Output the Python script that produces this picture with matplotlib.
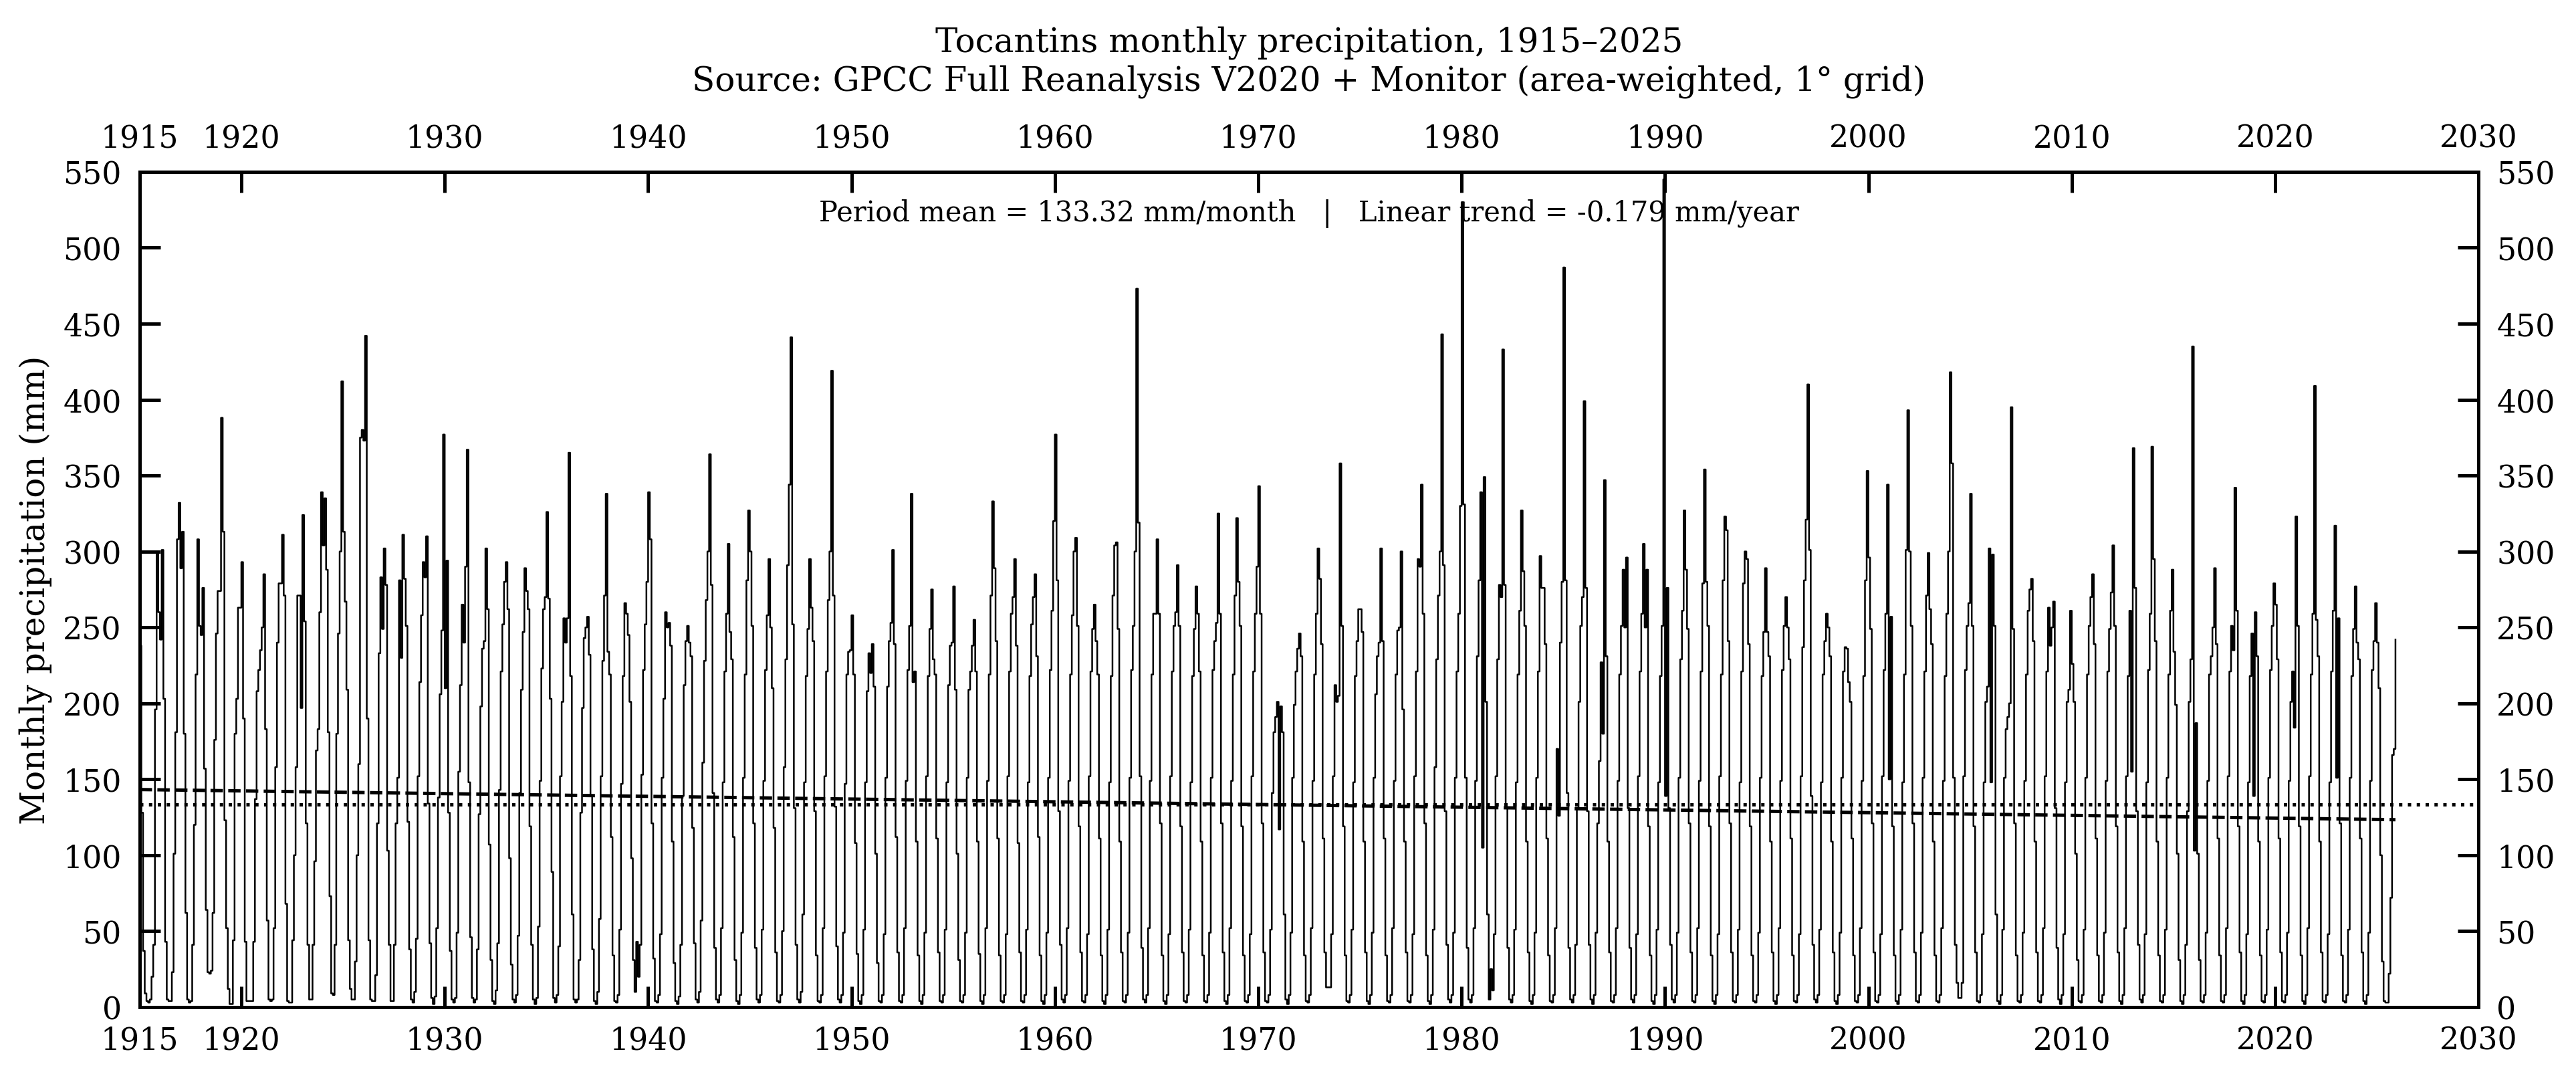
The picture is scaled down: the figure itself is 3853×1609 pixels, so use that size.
import matplotlib
matplotlib.use("Agg")
import matplotlib.pyplot as plt
import numpy as np

plt.rcParams["font.family"] = "DejaVu Serif"
plt.rcParams["font.size"] = 11

first_year = 1915
period_mean = 133.32      # mm/month, as printed on the chart
trend_per_year = -0.179   # mm/year, as printed on the chart
x_ticks = [1915, 1920, 1930, 1940, 1950, 1960, 1970, 1980, 1990, 2000, 2010, 2020, 2030]
y_ticks = list(range(0, 551, 50))

# monthly precipitation (mm), one row per year, Jan..Dec, 1915-2025
monthly_precip_mm = [
    [238, 128, 37, 9, 4, 3, 5, 20, 41, 196, 299, 260],
    [242, 301, 203, 43, 5, 4, 4, 23, 101, 181, 308, 332],
    [289, 313, 180, 62, 5, 3, 4, 41, 120, 219, 308, 251],
    [245, 276, 157, 64, 23, 22, 24, 62, 176, 246, 274, 274],
    [388, 313, 123, 52, 12, 2, 2, 44, 180, 203, 263, 263],
    [293, 190, 43, 4, 4, 4, 4, 43, 137, 208, 222, 235],
    [250, 285, 183, 57, 5, 4, 5, 52, 158, 240, 279, 279],
    [311, 271, 68, 4, 3, 3, 44, 100, 158, 271, 271, 197],
    [324, 254, 121, 41, 5, 5, 41, 96, 169, 183, 260, 339],
    [304, 335, 288, 181, 73, 9, 8, 41, 180, 246, 300, 412],
    [313, 267, 209, 44, 12, 5, 5, 30, 100, 160, 375, 380],
    [373, 442, 190, 44, 5, 4, 4, 21, 121, 233, 283, 249],
    [302, 278, 103, 41, 4, 4, 41, 121, 151, 281, 230, 311],
    [282, 251, 122, 38, 5, 3, 10, 45, 152, 214, 258, 293],
    [283, 310, 134, 42, 6, 2, 7, 52, 138, 206, 248, 377],
    [210, 294, 128, 37, 5, 3, 6, 49, 155, 212, 265, 240],
    [290, 367, 148, 46, 6, 3, 5, 38, 127, 198, 236, 241],
    [302, 262, 107, 31, 4, 2, 11, 42, 143, 221, 252, 280],
    [293, 262, 98, 28, 5, 3, 8, 47, 141, 209, 247, 289],
    [274, 262, 119, 41, 5, 2, 6, 53, 149, 223, 262, 270],
    [326, 269, 203, 89, 6, 3, 8, 40, 152, 201, 256, 240],
    [256, 365, 218, 61, 5, 3, 5, 31, 128, 197, 243, 250],
    [257, 232, 139, 38, 4, 2, 10, 58, 152, 228, 271, 338],
    [234, 219, 112, 34, 4, 3, 8, 51, 147, 218, 266, 259],
    [245, 201, 98, 31, 10, 43, 20, 41, 153, 222, 252, 280],
    [339, 308, 121, 32, 4, 3, 8, 48, 151, 203, 260, 250],
    [253, 238, 109, 29, 4, 2, 7, 41, 139, 212, 241, 251],
    [240, 231, 118, 42, 5, 3, 10, 57, 161, 228, 268, 300],
    [364, 278, 141, 39, 5, 3, 8, 52, 148, 221, 259, 305],
    [247, 229, 112, 31, 4, 2, 8, 49, 151, 219, 281, 327],
    [300, 251, 121, 39, 5, 3, 8, 51, 149, 222, 258, 295],
    [250, 210, 118, 36, 4, 3, 8, 50, 158, 229, 291, 344],
    [441, 252, 131, 41, 5, 3, 10, 61, 148, 218, 249, 295],
    [263, 241, 129, 34, 4, 3, 8, 52, 152, 221, 268, 300],
    [419, 271, 132, 40, 5, 3, 8, 49, 147, 219, 234, 235],
    [258, 219, 108, 35, 4, 2, 8, 51, 148, 208, 233, 220],
    [239, 211, 101, 29, 4, 3, 8, 48, 151, 211, 241, 253],
    [301, 239, 112, 36, 4, 3, 8, 52, 149, 222, 251, 338],
    [214, 221, 109, 34, 4, 2, 8, 49, 152, 218, 249, 275],
    [229, 219, 111, 36, 4, 3, 8, 51, 148, 212, 238, 240],
    [277, 209, 101, 31, 4, 3, 8, 49, 151, 209, 221, 238],
    [255, 221, 109, 35, 4, 2, 8, 52, 149, 219, 271, 333],
    [289, 241, 111, 34, 4, 3, 8, 48, 152, 221, 259, 270],
    [295, 238, 108, 36, 4, 3, 8, 51, 148, 218, 252, 270],
    [285, 231, 112, 34, 4, 2, 8, 49, 151, 222, 261, 320],
    [377, 281, 129, 41, 5, 3, 8, 52, 149, 219, 258, 300],
    [309, 251, 119, 36, 4, 3, 8, 48, 152, 221, 249, 265],
    [241, 219, 111, 34, 4, 2, 8, 51, 148, 218, 271, 304],
    [306, 249, 109, 36, 4, 3, 8, 49, 151, 222, 251, 300],
    [473, 319, 152, 39, 5, 3, 8, 52, 149, 219, 259, 259],
    [308, 259, 121, 34, 4, 2, 8, 48, 152, 221, 251, 260],
    [291, 251, 119, 36, 4, 3, 8, 51, 148, 218, 249, 277],
    [259, 221, 109, 34, 4, 3, 8, 49, 151, 222, 241, 253],
    [325, 259, 121, 36, 4, 2, 8, 52, 149, 219, 271, 322],
    [280, 251, 119, 34, 4, 3, 8, 48, 152, 221, 259, 290],
    [343, 259, 121, 36, 4, 3, 8, 51, 141, 181, 191, 201],
    [117, 198, 181, 61, 5, 2, 8, 49, 151, 199, 221, 236],
    [246, 231, 109, 34, 4, 3, 8, 52, 149, 219, 259, 302],
    [282, 239, 111, 36, 13, 13, 13, 48, 152, 212, 201, 205],
    [358, 251, 119, 34, 4, 3, 8, 51, 148, 218, 241, 262],
    [262, 247, 109, 36, 4, 2, 8, 49, 151, 206, 231, 240],
    [302, 241, 111, 34, 4, 3, 8, 52, 149, 219, 248, 250],
    [300, 196, 109, 36, 4, 3, 8, 48, 152, 221, 295, 290],
    [344, 259, 121, 34, 4, 2, 8, 51, 158, 229, 271, 300],
    [443, 291, 129, 41, 5, 3, 8, 49, 151, 221, 259, 330],
    [530, 331, 151, 39, 5, 3, 8, 52, 149, 231, 281, 339],
    [105, 349, 201, 61, 5, 25, 11, 48, 152, 229, 278, 270],
    [433, 278, 131, 39, 5, 3, 8, 51, 148, 219, 261, 327],
    [287, 251, 109, 36, 4, 2, 8, 49, 151, 221, 297, 276],
    [276, 239, 111, 34, 4, 3, 8, 52, 170, 126, 240, 280],
    [487, 281, 141, 39, 5, 3, 8, 41, 131, 201, 251, 270],
    [399, 276, 129, 41, 5, 2, 8, 49, 121, 162, 227, 180],
    [347, 231, 109, 36, 4, 3, 8, 52, 149, 219, 251, 288],
    [250, 296, 131, 39, 5, 3, 8, 48, 152, 221, 259, 305],
    [250, 288, 119, 34, 4, 2, 8, 51, 148, 218, 251, 545],
    [139, 276, 131, 41, 5, 3, 8, 49, 151, 229, 261, 327],
    [288, 249, 121, 36, 4, 3, 8, 52, 149, 221, 279, 354],
    [280, 251, 119, 34, 4, 2, 8, 48, 152, 219, 281, 323],
    [314, 241, 121, 36, 4, 3, 8, 51, 148, 221, 279, 300],
    [295, 239, 119, 34, 4, 3, 8, 49, 151, 218, 247, 289],
    [247, 231, 109, 36, 4, 2, 8, 52, 149, 222, 251, 270],
    [250, 229, 111, 34, 4, 3, 8, 48, 152, 237, 281, 321],
    [410, 301, 139, 41, 5, 3, 8, 51, 148, 219, 241, 259],
    [250, 231, 109, 36, 4, 2, 8, 49, 151, 221, 237, 236],
    [214, 201, 111, 34, 4, 3, 8, 52, 149, 218, 281, 353],
    [296, 249, 121, 36, 4, 3, 8, 48, 152, 222, 259, 344],
    [150, 257, 119, 34, 4, 2, 8, 51, 148, 219, 301, 393],
    [300, 251, 121, 36, 4, 3, 8, 49, 151, 221, 271, 299],
    [262, 239, 109, 34, 4, 3, 8, 52, 149, 218, 259, 300],
    [418, 358, 151, 41, 16, 6, 6, 16, 152, 222, 251, 266],
    [338, 251, 119, 36, 4, 3, 8, 48, 148, 201, 211, 302],
    [148, 298, 251, 61, 4, 2, 8, 51, 151, 183, 191, 200],
    [395, 249, 121, 34, 4, 3, 8, 49, 149, 219, 261, 275],
    [282, 241, 109, 36, 4, 3, 8, 52, 152, 221, 263, 238],
    [250, 267, 131, 39, 5, 2, 8, 48, 148, 201, 209, 261],
    [226, 201, 101, 31, 4, 3, 8, 51, 151, 219, 251, 270],
    [285, 239, 111, 34, 4, 3, 8, 49, 149, 221, 249, 273],
    [304, 251, 119, 36, 4, 2, 8, 52, 152, 218, 261, 155],
    [368, 276, 129, 41, 5, 3, 8, 48, 148, 222, 259, 369],
    [295, 241, 109, 34, 4, 3, 8, 51, 151, 219, 261, 288],
    [234, 199, 101, 31, 4, 2, 8, 41, 129, 201, 229, 435],
    [103, 187, 101, 31, 4, 3, 8, 49, 149, 219, 231, 250],
    [289, 239, 111, 34, 4, 3, 8, 52, 152, 221, 251, 235],
    [342, 261, 119, 36, 4, 2, 8, 48, 148, 218, 246, 139],
    [260, 231, 109, 34, 4, 3, 8, 51, 151, 222, 251, 279],
    [265, 229, 111, 36, 4, 3, 8, 49, 149, 201, 221, 184],
    [323, 251, 119, 34, 4, 2, 8, 52, 152, 219, 259, 409],
    [255, 231, 109, 36, 4, 3, 8, 48, 148, 221, 261, 317],
    [151, 256, 121, 34, 4, 3, 8, 51, 151, 218, 249, 277],
    [240, 229, 111, 36, 4, 2, 8, 49, 149, 222, 241, 266],
    [240, 210, 100, 30, 4, 3, 3, 22, 72, 166, 170, 242],
]

precip = np.array(monthly_precip_mm, dtype=float).ravel()
t = first_year + np.arange(precip.size) / 12.0
t_mid = 0.5 * (t[0] + t[-1])
trend = period_mean + trend_per_year * (t - t_mid)

fig = plt.figure(figsize=(3854 / 300, 1610 / 300), dpi=300)
ax = fig.add_axes([0.0542, 0.064, 0.9077, 0.7758])

ax.plot(t, precip, drawstyle='steps-post', color='k', linewidth=0.6)
ax.axhline(period_mean, color='k', linestyle=':', linewidth=1.2)
ax.plot(t, trend, color='k', linestyle='--', linewidth=1.2)

ax.set_xlim(1915, 2030)
ax.set_ylim(0, 550)
ax.set_xticks(x_ticks)
ax.set_yticks(y_ticks)
ax.tick_params(direction='in', top=True, right=True, labeltop=True, labelright=True,
               length=7.5, width=1.2, pad=6.5, labelsize=11)
for s in ax.spines.values():
    s.set_linewidth(1.2)

ax.set_ylabel('Monthly precipitation (mm)', fontsize=12)
ax.set_title('Tocantins monthly precipitation, 1915\u20132025\n'
             'Source: GPCC Full Reanalysis V2020 + Monitor (area-weighted, 1\u00b0 grid)',
             fontsize=12, pad=12)

ax.text(0.5, 0.951,
        f'Period mean = {period_mean:.2f} mm/month   |   Linear trend = {trend_per_year:.3f} mm/year',
        transform=ax.transAxes, ha='center', va='center', fontsize=10)

fig.savefig('out.png', dpi=300)
